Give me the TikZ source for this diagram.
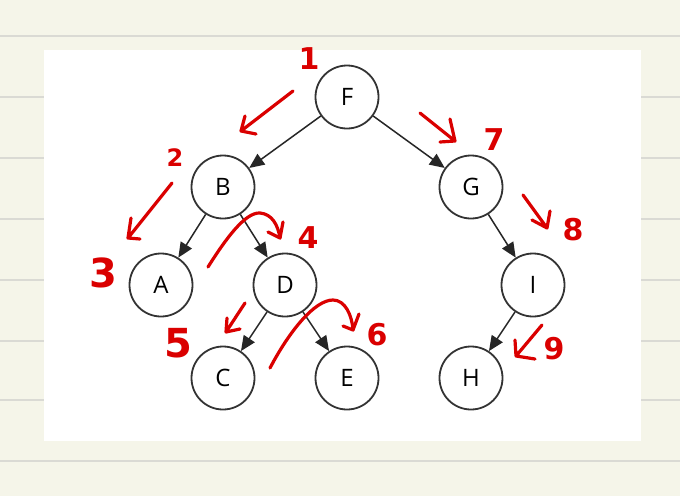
\documentclass[tikz,border=0pt]{standalone}
\usepackage{fontspec}
\setmainfont{Open Sans}
\newfontfamily\manofont{DejaVu Sans}
\usepackage{xcolor}
\usetikzlibrary{arrows.meta, positioning}

\definecolor{papel}{HTML}{F5F5E9}
\definecolor{renglon}{HTML}{DADAD4}
\definecolor{tinta}{HTML}{DA0000}

\begin{document}
\begin{tikzpicture}[
    x=1pt, y=-1pt,
    node distance=90pt and 124pt, on grid,
    nodo/.style={circle, draw=black!80, line width=1.8pt, fill=white,
                 minimum size=63pt, inner sep=0pt,
                 font=\fontsize{24}{28}\selectfont},
    flecha/.style={-{Triangle[length=15pt, width=13pt]}, line width=1.5pt, black!85},
    trazo/.style={draw=tinta, line width=3.2pt, line cap=round, line join=round},
    numero/.style={text=tinta, inner sep=0pt,
                   font=\manofont\bfseries\fontsize{30}{34}\selectfont}
]
    % hoja de cuaderno
    \useasboundingbox (0,0) rectangle (680,496);
    \fill[papel] (0,0) rectangle (680,496);
    \foreach \y in {36,97,158,219,280,341,400,461}
        \draw[renglon, line width=2pt] (0,\y) -- (680,\y);
    \fill[white] (44,50) rectangle (641,441);

    % arbol
    \node[nodo] (F) at (347,97) {F};
    \node[nodo, below left=of F]  (B) {B};
    \node[nodo, below right=of F] (G) {G};
    \node[nodo, below left=98pt and 62pt of B]  (A) {A};
    \node[nodo, below right=98pt and 62pt of B] (D) {D};
    \node[nodo, below right=98pt and 62pt of G] (I) {I};
    \node[nodo, below left=93pt and 62pt of D]  (C) {C};
    \node[nodo, below right=93pt and 62pt of D] (E) {E};
    \node[nodo, below left=93pt and 62pt of I]  (H) {H};

    \draw[flecha] (F) -- (B);
    \draw[flecha] (F) -- (G);
    \draw[flecha] (B) -- (A);
    \draw[flecha] (B) -- (D);
    \draw[flecha] (G) -- (I);
    \draw[flecha] (D) -- (C);
    \draw[flecha] (D) -- (E);
    \draw[flecha] (I) -- (H);

    % recorrido a mano
    \draw[trazo] (293,91) -- (241,131) (245,116) -- (241,131) -- (256,134);
    \draw[trazo] (172,183) -- (128,238) (131,218) -- (128,238) -- (140,239);
    \draw[trazo] (208,267) .. controls (225,240) and (245,212) .. (260,213)
                 .. controls (272,214) and (278,225) .. (280,238);
    \draw[trazo] (268,232) -- (280,238) -- (283,222);
    \draw[trazo] (245,303) -- (226,332) (227,318) -- (226,332) -- (240,329);
    \draw[trazo] (270,368) .. controls (290,330) and (315,300) .. (333,300)
                 .. controls (345,300) and (352,315) .. (353,330);
    \draw[trazo] (343,326) -- (353,330) -- (359,314);
    \draw[trazo] (420,113) -- (455,141) (450,119) -- (455,141) -- (440,142);
    \draw[trazo] (523,195) -- (547,228) (550,211) -- (547,228) -- (532,220);
    \draw[trazo] (542,325) -- (516,356) (515,340) -- (516,356) -- (535,359);

    \node[numero] (n1) at (309,59)  {1};
    \node[numero, font=\manofont\bfseries\fontsize{24}{28}\selectfont] (n2) at (175,158) {2};
    \node[numero, font=\manofont\bfseries\fontsize{40}{44}\selectfont] (n3) at (103,273) {3};
    \node[numero] (n4) at (308,238) {4};
    \node[numero, font=\manofont\bfseries\fontsize{40}{44}\selectfont] (n5) at (178,343) {5};
    \node[numero] (n6) at (377,335) {6};
    \node[numero] (n7) at (494,140) {7};
    \node[numero] (n8) at (573,230) {8};
    \node[numero] (n9) at (554,349) {9};
\end{tikzpicture}
\end{document}
